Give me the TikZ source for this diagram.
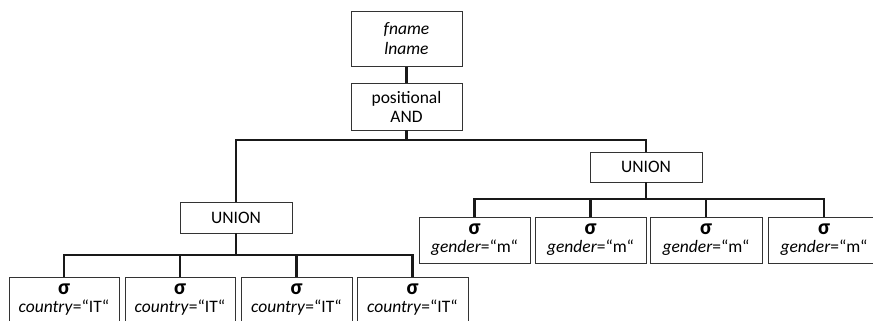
\documentclass[tikz,border=0pt]{standalone}
\usepackage{fontspec}
\setmainfont{Carlito}
\newcommand{\selsig}{{\fontsize{22}{22}\selectfont\bfseries σ}}
\begin{document}
\begin{tikzpicture}[x=1pt,y=-1pt,
  box/.style={draw=black!80,line width=0.9pt,fill=white,inner sep=0pt,
    align=center,font=\fontsize{17.5}{20}\selectfont},
  opbox/.style={box,minimum width=111pt},
  selbox/.style={box,minimum width=110pt,minimum height=46pt},
  link/.style={line width=2.8pt,black!90}]
\useasboundingbox (0,0) rectangle (873,321);

% projection and join
\node[opbox,minimum height=55pt] (proj) at (406.5,39) {\textit{fname}\\\textit{lname}};
\node[opbox,minimum height=47pt] (pand) at (406.5,106.5) {positional\\[-1pt]AND};

% unions
\node[opbox,minimum width=112pt,minimum height=31pt] (lunion) at (236,217.5) {UNION};
\node[opbox,minimum width=112pt,minimum height=30pt] (runion) at (646,167) {UNION};

% selections under the right union
\node[selbox,minimum width=111pt] (r1) at (474.5,240) {\selsig\\[-2pt]\textit{gender}=“m“};
\node[selbox,minimum width=111pt] (r2) at (590.5,240) {\selsig\\[-2pt]\textit{gender}=“m“};
\node[selbox,minimum width=112pt] (r3) at (706,240) {\selsig\\[-2pt]\textit{gender}=“m“};
\node[selbox,minimum width=112pt] (r4) at (824,240) {\selsig\\[-2pt]\textit{gender}=“m“};

% selections under the left union
\node[selbox] (l1) at (64,300) {\selsig\\[-2pt]\textit{country}=“IT“};
\node[selbox] (l2) at (180,300) {\selsig\\[-2pt]\textit{country}=“IT“};
\node[selbox,minimum width=111pt] (l3) at (296.5,300) {\selsig\\[-2pt]\textit{country}=“IT“};
\node[selbox,minimum width=111pt] (l4) at (412.5,300) {\selsig\\[-2pt]\textit{country}=“IT“};

% bus points
\coordinate (bustop) at (406.5,140);
\coordinate (busr) at (646,199);
\coordinate (busl) at (236,255);

% connectors
\draw[link] (proj.south) -- (pand.north);
\draw[link] (pand.south) -- (bustop);
\draw[link] (lunion.north) |- (bustop);
\draw[link] (runion.north) |- (bustop);
\draw[link] (runion.south) -- (busr);
\foreach \n in {r1,r2,r3,r4} \draw[link] (\n.north) |- (busr);
\draw[link] (lunion.south) -- (busl);
\foreach \n in {l1,l2,l3,l4} \draw[link] (\n.north) |- (busl);
\end{tikzpicture}
\end{document}
